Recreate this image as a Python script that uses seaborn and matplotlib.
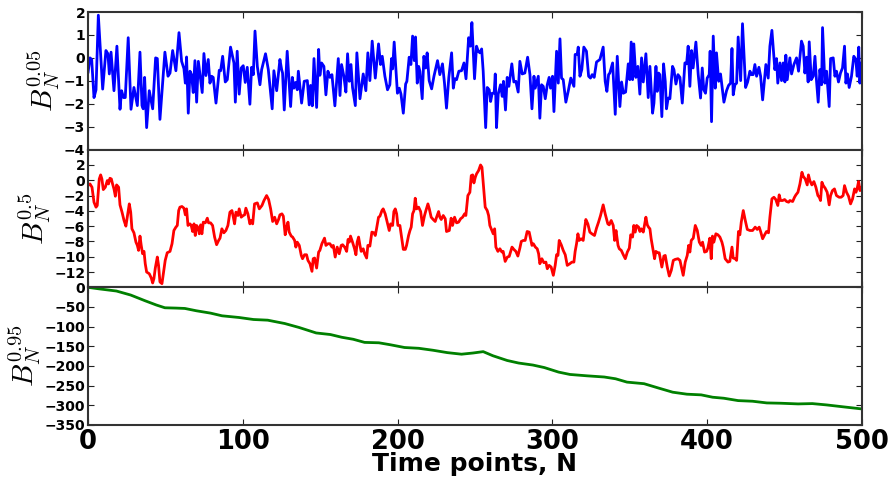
import matplotlib
matplotlib.use("Agg")
import matplotlib.pyplot as plt
import seaborn as sns
import numpy as np

# ---------------- data ----------------
blue_t = [0.0,1.3,2.4,3.9,5.2,6.7,9.5,11.6,12.9,13.8,14.9,16.8,18.7,20.7,21.7,23.0,24.1,26.0,27.8,29.7,31.9,33.6,34.9,35.7,36.6,37.9,39.6,41.8,43.7,44.8,46.5,49.7,51.7,53.0,54.7,56.8,58.8,60.5,62.0,62.9,63.7,64.8,65.9,66.9,68.0,69.1,70.2,71.3,72.3,73.8,74.9,76.2,77.7,78.8,79.9,80.9,82.7,84.8,85.7,87.0,88.7,90.0,92.1,94.3,95.2,96.4,97.7,99.0,100.3,101.6,102.9,104.6,105.7,106.8,107.9,109.4,111.1,112.2,114.7,116.5,119.0,120.1,121.9,124.0,
          125.1,125.7,126.8,128.7,130.9,132.0,133.0,134.1,135.2,135.9,138.0,139.7,141.7,142.9,143.8,144.9,146.0,147.7,149.0,149.8,150.9,152.4,153.7,155.0,156.3,157.6,159.5,161.7,162.8,163.8,165.3,166.6,167.7,168.8,169.9,170.9,172.7,173.7,175.7,177.8,179.5,180.8,182.1,183.6,185.6,187.7,189.0,190.1,191.8,193.5,195.0,196.1,196.8,197.8,199.9,201.1,202.2,203.7,205.2,206.0,207.5,208.6,209.7,210.8,211.6,212.7,213.6,214.4,215.9,217.0,218.1,219.1,220.4,222.0,223.5,225.8,227.3,229.0,230.3,231.6,233.1,234.9,236.0,237.0,238.1,239.6,241.3,242.9,244.2,245.9,
          247.0,248.0,249.7,251.0,252.1,253.2,254.3,255.3,256.9,257.9,259.2,260.1,261.1,262.4,263.1,263.9,265.0,266.5,267.6,268.4,269.7,270.8,271.9,273.8,275.1,276.4,277.9,279.0,280.5,282.2,284.0,285.5,286.8,288.1,288.9,290.9,291.9,293.0,294.1,295.4,296.7,297.9,298.8,300.1,301.0,302.7,303.8,304.9,305.9,307.0,308.7,310.2,311.9,313.9,314.7,316.0,316.7,317.8,319.0,320.3,322.0,323.4,324.6,325.7,327.0,328.5,330.7,332.8,334.1,335.2,336.3,337.1,338.9,340.6,341.9,343.6,344.7,345.8,347.3,349.0,350.0,350.9,351.8,352.6,353.9,355.2,356.5,357.6,358.7,360.4,361.9,363.0,364.7,
          365.6,366.9,367.7,368.6,369.4,370.7,371.8,372.9,373.7,374.8,375.9,377.6,378.5,379.8,381.1,382.4,383.9,385.6,386.7,387.7,388.8,389.9,390.9,392.7,394.2,395.7,396.8,397.8,398.9,400.0,401.3,401.9,402.8,403.9,405.2,406.0,407.4,408.6,410.8,412.5,413.8,415.1,416.0,416.8,417.9,419.0,420.0,421.6,422.8,424.8,426.1,427.6,428.6,429.7,430.8,431.9,433.4,434.5,435.8,437.9,439.4,440.5,441.8,443.7,444.8,445.6,447.0,448.0,449.1,450.2,450.8,451.7,453.4,454.5,456.0,457.7,459.0,460.9,462.0,463.1,464.2,465.2,465.9,467.2,468.5,469.6,470.6,471.7,472.8,473.9,474.5,476.0,477.1,478.8,479.7,481.4,482.5,483.5,484.8,486.1,487.4,488.7,489.6,490.6,491.7,493.2,494.7,496.0,496.9,497.9,498.6,499.5,500.0]
blue_v = [-0.66,0.00,-0.07,-1.73,-1.39,1.86,-1.36,0.32,0.18,-0.70,0.25,-1.43,0.51,-2.24,-1.43,-1.73,-1.73,0.88,-2.24,-1.29,-2.08,0.25,-2.08,-2.22,-0.85,-3.04,-1.43,-2.22,0.00,-0.03,-2.68,0.25,-0.80,-0.66,0.32,-0.56,1.10,-0.15,-0.47,-1.10,0.04,-2.41,-0.58,-0.73,-1.51,-0.12,-1.93,-0.15,-0.70,-1.51,0.19,-0.77,-0.07,-1.10,-0.80,-0.85,-1.97,-0.54,-0.56,0.07,-1.05,-0.95,0.47,-0.22,-1.93,0.29,-1.58,-0.44,-0.34,-1.07,-0.41,-2.02,-0.41,-0.73,1.17,-0.37,-1.17,-0.51,0.18,-0.51,-2.22,-0.56,-1.43,-0.07,
          -0.51,-0.66,-2.27,0.29,-2.12,-0.85,-1.32,-1.07,-1.39,-0.58,-1.97,-1.02,-0.99,-2.05,-1.20,-2.09,-0.03,-2.16,0.37,-0.76,-0.22,-0.37,-1.61,-0.58,-0.85,-0.73,-2.09,-0.03,-1.64,-0.29,-0.80,-1.49,0.18,-1.02,-0.29,-1.29,-2.08,0.22,-1.78,-0.70,-1.43,0.22,-0.99,0.73,-0.88,0.61,-0.29,0.07,-0.80,-1.39,-1.17,-0.03,-0.48,0.69,-1.54,-1.32,-1.58,-2.41,-1.14,-1.02,0.03,-0.29,0.95,-0.12,0.91,-1.10,-0.37,-0.58,-1.78,0.07,-0.44,0.22,-0.99,-1.35,-0.80,-0.12,-0.73,-0.26,-1.10,-2.19,-0.85,0.22,-1.32,-0.91,-0.95,-0.58,-0.56,-0.22,-0.91,0.88,
          0.51,1.54,-0.91,0.51,0.29,0.22,0.39,-0.58,-3.04,-1.29,-1.39,-1.90,-1.54,-1.54,-0.70,-3.04,-1.58,-1.17,-1.68,-1.02,-2.27,-0.85,-1.24,-0.26,-1.05,-1.02,-1.49,-0.15,-0.70,-0.66,0.03,-0.73,-2.22,-0.80,-1.32,-0.80,-2.63,-1.17,-1.24,-1.78,-1.17,-0.85,-1.32,-0.80,-2.34,0.29,-1.10,0.83,-0.88,-0.95,-1.93,-1.46,-0.88,-1.24,0.15,0.15,0.47,-0.80,-0.51,0.47,0.29,-0.80,-0.88,-0.73,-0.85,-0.18,-0.07,0.47,-1.02,-1.46,-0.73,-0.66,-0.22,-2.46,0.07,-2.12,-1.05,-1.54,-1.49,-0.26,-0.95,0.69,-0.95,0.61,-0.85,-0.37,-1.58,0.00,-1.05,0.18,-1.73,-0.37,-2.41,
          -1.97,-0.37,-1.46,-0.66,-0.73,-2.56,-0.26,-1.02,-2.22,-1.75,-1.78,-0.37,-0.51,-1.14,-0.73,-0.85,-1.97,-0.22,-0.26,0.51,-1.24,0.32,-0.44,0.69,-0.73,-1.75,-0.44,-1.39,-1.54,-0.88,-0.73,0.29,-2.78,0.95,-1.32,0.22,-1.02,-0.70,-1.93,-1.43,-1.20,-1.10,0.41,-1.61,-1.17,-1.10,0.91,-0.99,1.49,-1.29,-1.05,-0.58,-0.73,-0.73,-0.29,-0.80,-0.41,-0.80,-1.83,-0.29,-0.88,0.51,1.20,-0.51,-0.03,-1.10,-0.22,-0.99,-0.22,-1.05,0.12,-0.95,0.00,-0.70,-0.29,0.00,-0.58,0.73,0.51,-0.66,0.03,-1.05,0.70,-0.95,-0.80,0.07,-0.99,-1.93,-0.51,-1.17,1.32,-1.10,-0.58,-2.12,-0.03,0.00,-0.80,-0.58,-1.05,-0.66,-0.44,0.51,-1.10,-0.70,-1.29,-0.80,0.07,-0.07,-0.80,0.47,-1.10,-0.22,-0.95]

red_t = [0.0,1.3,2.6,3.9,5.2,6.0,7.3,8.2,9.0,9.9,11.2,12.5,13.3,14.2,15.1,15.9,16.8,17.7,18.5,19.8,20.7,22.0,23.3,24.5,25.4,26.7,27.6,28.4,29.7,31.0,31.9,32.7,33.6,34.4,35.3,36.2,37.0,37.9,39.6,40.9,41.8,42.6,43.5,44.8,45.6,46.5,47.8,48.7,49.9,51.2,53.0,54.3,55.5,56.8,57.7,58.6,59.4,60.7,62.0,62.9,63.7,64.6,65.9,66.7,67.6,68.5,69.3,70.2,71.3,71.9,72.8,73.6,74.5,75.8,77.1,77.9,79.2,80.5,81.8,83.1,84.4,85.3,86.5,87.8,89.1,90.4,91.7,93.0,93.9,94.7,95.6,96.9,97.7,99.0,100.3,101.2,102.0,103.3,104.6,105.5,106.4,107.6,109.4,110.7,112.4,113.7,115.4,116.7,118.0,119.3,120.6,121.9,123.1,
         124.0,125.3,126.2,127.4,128.3,129.2,130.0,131.3,132.2,133.5,134.3,135.2,136.5,137.8,138.6,139.9,141.2,142.1,143.4,144.7,145.5,146.4,147.7,149.0,149.8,151.1,152.8,153.7,155.0,156.3,157.6,158.5,159.7,161.0,162.3,163.6,164.5,165.8,167.1,168.0,168.8,169.6,170.9,172.2,173.1,173.9,174.8,175.7,176.5,177.8,178.7,180.0,180.8,182.1,183.4,184.7,185.6,186.4,187.7,188.6,189.9,190.7,192.0,193.3,194.6,195.5,196.8,197.6,198.5,199.4,200.2,201.5,202.8,203.7,205.0,205.8,207.1,208.0,208.8,209.7,210.6,211.4,212.3,213.6,214.9,216.1,217.4,218.3,219.6,220.5,221.7,223.0,224.3,225.2,226.5,227.3,228.2,229.5,230.8,231.6,233.4,234.6,235.5,236.8,238.1,239.4,240.7,242.0,243.3,244.1,245.4,
         246.7,247.6,248.5,249.3,250.2,251.0,252.3,253.6,254.5,255.3,256.6,257.9,258.8,259.6,260.9,261.8,262.7,263.5,264.8,266.1,267.4,268.2,269.5,270.9,272.1,273.9,275.1,276.4,277.7,279.0,279.9,281.2,282.4,283.7,285.0,285.9,286.8,287.7,289.0,290.2,291.1,291.9,293.2,294.5,295.8,296.7,297.9,299.2,300.6,301.8,302.7,303.6,304.4,305.7,307.0,308.3,309.6,311.3,312.6,313.9,314.7,315.6,316.5,317.3,318.6,319.9,320.8,321.6,322.9,324.2,325.5,327.2,328.5,329.8,331.1,332.8,334.1,335.8,336.7,338.0,339.3,340.2,341.1,342.4,343.2,344.5,345.8,347.1,348.4,349.7,350.6,351.8,352.6,353.5,354.4,355.7,356.5,357.4,358.7,360.4,361.3,362.1,363.0,363.8,365.1,366.0,366.8,368.1,
         369.0,370.7,372.0,372.9,374.2,375.5,376.8,378.1,379.3,381.1,382.4,383.6,384.5,385.8,387.1,388.0,388.8,389.7,391.0,392.3,393.6,394.9,396.1,397.0,398.3,399.6,400.4,401.7,402.6,403.4,404.3,405.6,406.9,408.2,409.5,410.3,411.6,413.4,414.6,416.0,416.8,418.1,419.0,420.2,421.1,422.0,423.3,424.6,425.9,427.6,429.3,431.0,432.3,433.6,434.5,435.8,437.1,438.3,439.6,440.5,441.8,443.1,444.3,445.6,446.5,447.4,448.7,450.0,451.3,452.6,453.4,455.2,456.4,457.3,458.6,459.9,461.2,462.0,463.3,464.6,465.4,466.3,467.6,468.9,470.2,471.5,472.4,473.2,474.1,475.0,476.2,477.5,478.8,479.7,480.9,482.2,483.5,485.2,486.5,487.8,488.7,490.0,491.3,492.6,493.9,495.2,496.1,496.9,497.8,498.7,499.5]
red_v = [-0.70,-0.48,-0.91,-2.87,-3.52,-3.30,0.17,0.70,0.17,-1.22,-0.91,-0.04,-0.48,0.26,0.17,-0.48,-1.13,-2.09,-0.61,-0.91,-3.22,-4.17,-5.26,-6.00,-4.83,-3.09,-4.17,-6.35,-6.87,-8.09,-8.52,-9.17,-7.30,-8.52,-9.61,-9.30,-10.91,-12.00,-12.22,-12.78,-13.43,-12.87,-11.48,-10.04,-11.13,-13.30,-13.52,-12.22,-10.48,-9.48,-9.30,-8.30,-6.57,-6.13,-5.91,-3.96,-3.52,-3.43,-3.65,-4.52,-3.74,-5.91,-5.70,-5.91,-6.70,-5.70,-7.22,-5.91,-6.26,-7.00,-5.83,-7.00,-5.48,-5.57,-4.96,-5.57,-5.57,-5.91,-7.43,-8.43,-7.87,-7.57,-6.35,-6.87,-6.57,-5.91,-4.17,-3.96,-4.83,-5.70,-4.17,-4.61,-3.74,-4.83,-4.61,-4.52,-3.65,-4.39,-5.70,-5.26,-5.70,-3.09,-2.96,-3.74,-3.30,-2.65,-2.00,-2.52,-3.74,-5.39,-4.83,-5.70,-5.13,
         -4.52,-4.39,-4.70,-7.13,-6.13,-5.48,-6.78,-7.30,-7.43,-7.87,-8.74,-8.09,-8.52,-9.83,-10.26,-9.74,-9.74,-10.48,-10.91,-11.91,-10.26,-10.17,-11.48,-9.39,-9.17,-8.30,-7.57,-8.52,-8.30,-8.30,-8.74,-8.52,-10.04,-8.74,-9.61,-8.52,-8.43,-8.74,-9.30,-7.74,-8.09,-7.30,-8.09,-8.96,-9.74,-8.09,-7.43,-8.52,-9.30,-8.96,-9.61,-10.17,-8.52,-8.61,-6.78,-6.87,-7.22,-6.35,-4.83,-4.70,-3.96,-3.74,-4.39,-5.48,-6.57,-5.70,-5.91,-4.09,-3.74,-4.39,-5.91,-5.91,-7.74,-9.04,-9.04,-8.52,-7.22,-6.57,-6.13,-4.39,-3.96,-2.35,-3.74,-3.52,-4.09,-5.91,-4.61,-3.96,-3.09,-3.74,-4.83,-5.13,-5.39,-4.83,-4.09,-4.83,-5.13,-4.61,-5.04,-6.70,-6.57,-4.96,-5.91,-4.83,-5.57,-5.48,-5.04,-4.83,-4.39,-4.61,-2.00,
         -1.57,0.61,0.70,-0.35,0.39,0.83,1.26,2.00,1.70,-0.26,-3.52,-3.96,-4.61,-5.91,-6.57,-7.00,-6.35,-8.74,-9.30,-8.96,-9.39,-9.30,-10.61,-10.04,-9.96,-8.74,-9.04,-9.30,-9.91,-8.87,-8.00,-7.87,-7.87,-6.70,-6.78,-7.65,-8.52,-8.30,-8.74,-8.96,-9.61,-10.91,-10.26,-10.78,-10.70,-11.57,-11.13,-11.35,-12.43,-11.13,-9.74,-9.83,-7.87,-8.43,-9.17,-9.74,-11.13,-10.91,-10.70,-10.70,-9.30,-8.30,-7.00,-7.87,-7.65,-7.87,-6.35,-5.13,-5.70,-6.78,-7.00,-7.22,-6.26,-5.48,-4.61,-3.22,-4.39,-5.70,-5.83,-5.26,-5.91,-7.87,-6.57,-8.52,-8.96,-9.17,-9.74,-10.26,-9.39,-8.87,-7.13,-7.43,-5.91,-6.78,-5.91,-6.13,-6.70,-6.35,-6.78,-4.83,-5.83,-6.13,-6.35,-7.65,-9.17,-10.26,-9.30,-9.48,
         -9.48,-11.35,-9.91,-9.83,-11.35,-12.52,-11.78,-10.48,-10.35,-10.26,-10.48,-11.57,-12.43,-10.70,-9.83,-8.52,-9.39,-7.87,-7.57,-5.91,-6.57,-8.09,-8.52,-8.09,-9.39,-9.30,-8.87,-7.57,-10.26,-7.30,-8.09,-7.00,-7.13,-7.43,-8.09,-8.74,-10.26,-10.70,-10.61,-8.74,-10.17,-10.26,-10.48,-6.70,-7.13,-5.48,-3.96,-5.26,-6.43,-6.57,-6.57,-6.13,-6.43,-6.13,-6.70,-7.65,-7.13,-6.70,-6.87,-4.83,-2.43,-2.22,-2.52,-3.30,-1.91,-2.65,-2.65,-2.52,-2.78,-2.87,-2.65,-2.78,-2.22,-1.91,-1.57,-0.48,1.04,0.52,0.17,-0.61,0.70,-0.04,-0.61,-0.17,-0.91,-2.00,-2.22,-2.65,-0.26,-0.70,-1.04,-1.57,-3.22,-2.00,-1.35,-1.13,-2.00,-2.22,-2.22,-2.00,-0.70,-1.57,-2.09,-3.09,-2.43,-1.13,-1.57,-1.04,-0.17,-1.35,-0.91]

green_t = [0.0,7.4,18.4,27.6,36.8,44.2,49.7,57.1,62.6,70.0,79.2,86.6,97.6,106.9,116.1,127.1,136.3,147.4,156.6,164.0,171.3,178.7,187.9,195.3,204.5,213.7,222.9,232.1,241.3,248.7,255.3,261.6,270.8,278.2,287.4,294.8,304.0,311.3,322.4,333.5,340.8,348.2,359.2,368.5,377.7,386.9,396.1,403.5,410.8,420.0,429.3,438.5,447.7,458.7,467.9,477.2,488.2,500.0]
green_v = [0.0,-4.0,-9.4,-19.6,-34.0,-45.0,-52.0,-52.8,-53.7,-59.6,-65.6,-72.4,-76.7,-81.8,-83.5,-92.0,-102.0,-116.0,-120.0,-127.0,-132.0,-140.0,-141.0,-146.0,-153.0,-155.0,-160.0,-166.0,-170.0,-167.0,-163.5,-174.0,-186.0,-192.5,-197.6,-204.0,-215.5,-221.5,-225.0,-228.0,-232.5,-241.0,-245.0,-256.0,-266.6,-271.7,-273.4,-279.4,-282.0,-288.0,-289.6,-293.9,-294.7,-296.4,-295.6,-299.0,-304.0,-309.2]

x_ticks = [0, 100, 200, 300, 400, 500]
blue_yticks = [-4, -3, -2, -1, 0, 1, 2]
red_yticks = [-12, -10, -8, -6, -4, -2, 0, 2]
green_yticks = [-350, -300, -250, -200, -150, -100, -50, 0]
ylabels = [r"$B_N^{0.05}$", r"$B_N^{0.5}$", r"$B_N^{0.95}$"]
xlabel = "Time points, N"

# ---------------- style ----------------
sns.set_style("ticks")
plt.rcParams.update({
    "font.family": ["DejaVu Sans"],
    "font.weight": "bold",
    "mathtext.fontset": "cm",
    "xtick.direction": "in",
    "ytick.direction": "in",
    "xtick.top": True,
    "ytick.right": True,
    "axes.edgecolor": "#333333",
    "axes.linewidth": 1.5,
    "xtick.color": "#222222",
    "ytick.color": "#222222",
    "xtick.labelcolor": "black",
    "ytick.labelcolor": "black",
    "xtick.major.size": 4,
    "ytick.major.size": 4,
})

fig = plt.figure(figsize=(8.93, 4.8), dpi=100)
gs = fig.add_gridspec(3, 1, left=0.0985, right=0.9653, bottom=0.1146, top=0.975, hspace=0)
axes = [fig.add_subplot(gs[i]) for i in range(3)]

series = [
    (blue_t, blue_v, "#0000ff", (-4, 2), blue_yticks),
    (red_t, red_v, "#ff0000", (-14, 4), red_yticks),
    (green_t, green_v, "#008000", (-350, 0), green_yticks),
]

for ax, (t, v, col, ylim, yt), lab in zip(axes, series, ylabels):
    sns.lineplot(x=t, y=v, ax=ax, color=col, linewidth=2, estimator=None, sort=False)
    ax.set_xlim(0, 500)
    ax.set_ylim(*ylim)
    ax.set_xticks(x_ticks)
    ax.set_yticks(yt)
    ax.tick_params(axis="y", labelsize=10, pad=2)
    for lbl in ax.get_yticklabels():
        lbl.set_fontweight("bold")
    ax.set_ylabel(lab, fontsize=21, labelpad=1, color="black")
    ax.grid(False)

for ax in axes[:2]:
    ax.tick_params(axis="x", labelbottom=False)

axes[2].tick_params(axis="x", labelsize=18.5, pad=3)
for lbl in axes[2].get_xticklabels():
    lbl.set_fontweight("bold")
axes[2].set_xlabel(xlabel, fontsize=18, fontweight="bold", labelpad=-2, color="black")

fig.savefig("out.png", dpi=100)
